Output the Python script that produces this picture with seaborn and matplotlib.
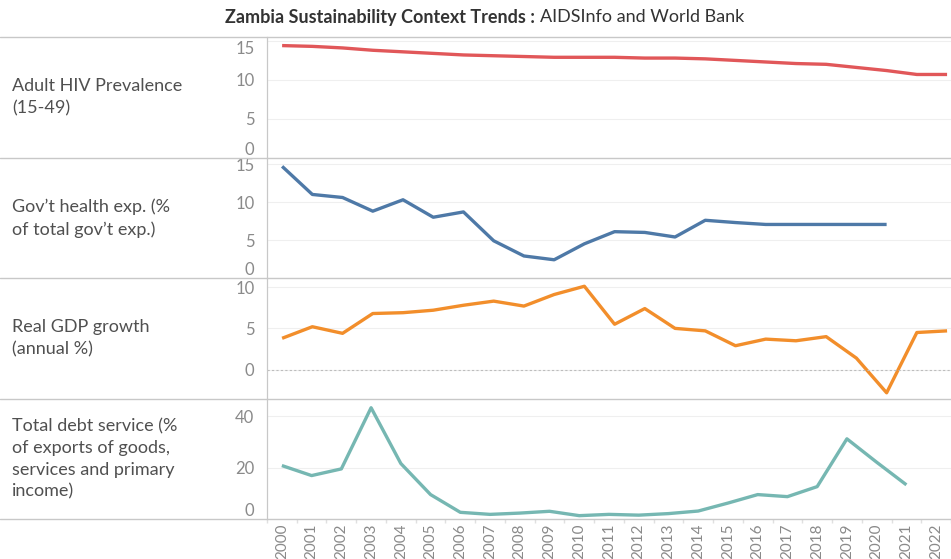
import numpy as np
import pandas as pd
import matplotlib.pyplot as plt
import seaborn as sns
from matplotlib.lines import Line2D

# --- data ---
years = list(range(2000, 2023))

hiv_prev = [14.4, 14.3, 14.1, 13.8, 13.6, 13.4, 13.2, 13.1, 13.0, 12.9, 12.9, 12.9,
            12.8, 12.8, 12.7, 12.5, 12.3, 12.1, 12.0, 11.6, 11.2, 10.7, 10.7]

gov_health = [14.7, 11.0, 10.6, 8.8, 10.3, 8.0, 8.7, 4.9, 2.9, 2.4, 4.5, 6.1,
              6.0, 5.4, 7.6, 7.3, 7.05, 7.05, 7.05, 7.05, 7.05, np.nan, np.nan]

gdp_growth = [3.8, 5.2, 4.4, 6.8, 6.9, 7.2, 7.8, 8.3, 7.7, 9.1, 10.1, 5.5,
              7.4, 5.0, 4.7, 2.9, 3.7, 3.5, 4.0, 1.4, -2.8, 4.5, 4.7]

debt_service = [20.8, 16.9, 19.5, 43.3, 21.6, 9.5, 2.6, 1.8, 2.3, 3.0, 1.3, 1.8,
                1.5, 2.1, 3.1, 6.2, 9.5, 8.7, 12.6, 31.2, 22.1, 13.3, np.nan]

row_labels = ["Adult HIV Prevalence\n(15-49)",
              "Gov\u2019t health exp. (%\nof total gov\u2019t exp.)",
              "Real GDP growth\n(annual %)",
              "Total debt service (%\nof exports of goods,\nservices and primary\nincome)"]
row_colors = ["#e15759", "#4e79a7", "#f28e2b", "#76b7b2"]
row_ticks = [[0, 5, 10, 15], [0, 5, 10, 15], [0, 5, 10], [0, 20, 40]]
row_ylims = [(0, 15.5), (0, 15.8), (-3.55, 11.1), (0, 46.7)]

df = pd.DataFrame({"year": years, "hiv": hiv_prev, "health": gov_health,
                   "gdp": gdp_growth, "debt": debt_service})
cols = ["hiv", "health", "gdp", "debt"]

# --- style ---
sns.set_theme(style="white")
plt.rcParams['font.family'] = ['Lato', 'DejaVu Sans']

W, H = 951, 559
fig = plt.figure(figsize=(W / 100, H / 100), dpi=100)

x_left = 267
row_edges = [37, 158, 278, 399, 519]
line_col = "#c8c8c8"
tick_col = "#8a8a8a"
text_col = "#505050"

for i, col in enumerate(cols):
    top, bot = row_edges[i], row_edges[i + 1]
    ax = fig.add_axes([x_left / W, 1 - bot / H, (W - x_left) / W, (bot - top) / H])
    sns.lineplot(data=df, x="year", y=col, ax=ax, color=row_colors[i],
                 linewidth=2.4, solid_capstyle="butt")
    ax.set_xlim(1999.5, 2022.13)
    ax.set_ylim(*row_ylims[i])
    ax.set_yticks(row_ticks[i])
    ax.yaxis.grid(True, color="#efefef", linewidth=0.8)
    ax.set_axisbelow(True)
    ax.set_xlabel("")
    ax.set_ylabel("")
    for s in ["top", "right", "bottom"]:
        ax.spines[s].set_visible(False)
    ax.spines["left"].set_color(line_col)
    ax.spines["left"].set_linewidth(0.9)
    ax.tick_params(axis="y", length=0, pad=9, labelsize=12, labelcolor=tick_col)
    labels = ax.get_yticklabels()
    if row_ticks[i][0] == 0 and row_ylims[i][0] == 0:
        labels[0].set_verticalalignment("bottom")
    if i == 0:
        labels[-1].set_verticalalignment("top")
    if col == "gdp":
        ax.axhline(0, color="#bdbdbd", linewidth=0.8, linestyle=(0, (2, 2)))
    if i < 3:
        ax.set_xticks([])
    else:
        ax.set_xticks(years)
        ax.set_xticklabels([str(y) for y in years], rotation=90)
        ax.set_xticks(np.arange(1999.5, 2022.6, 1), minor=True)
        ax.tick_params(axis="x", which="major", length=0, pad=3,
                       labelsize=11, labelcolor=tick_col)
        ax.tick_params(axis="x", which="minor", length=3, color="#e0e0e0",
                       bottom=True)
    # left-hand row header
    fig.text(12 / W, 1 - (top + bot) / 2 / H, row_labels[i], ha="left", va="center",
             fontsize=13, color=text_col, linespacing=1.45)

# row separator lines across the full width
for y in row_edges:
    fig.add_artist(Line2D([0, 1], [1 - y / H, 1 - y / H], color=line_col,
                          linewidth=1.0, transform=fig.transFigure))

# title
fig.text(535 / W, 1 - 17 / H, "Zambia Sustainability Context Trends :", ha="right",
         va="center", fontsize=13, fontweight="bold", color="#333333")
fig.text(540 / W, 1 - 17 / H, "AIDSInfo and World Bank", ha="left",
         va="center", fontsize=13, color="#333333")

fig.savefig("out.png", dpi=100)
